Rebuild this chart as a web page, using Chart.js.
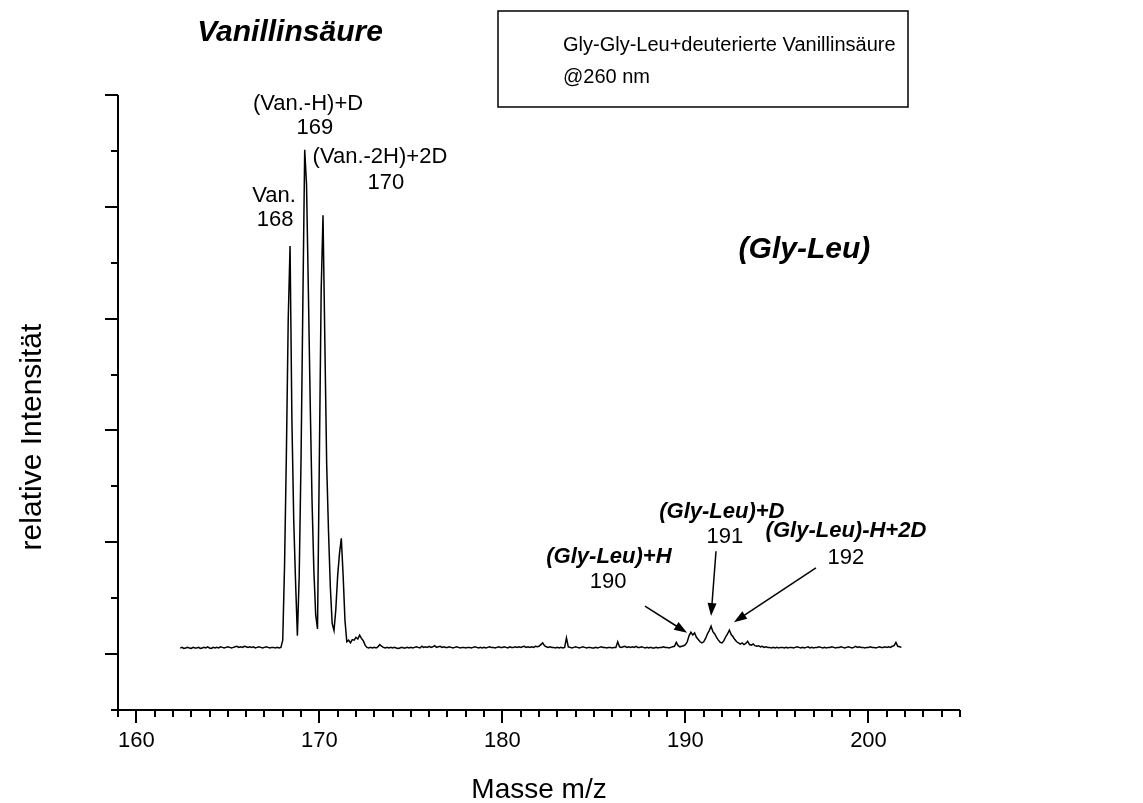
<!DOCTYPE html>
<html>
<head>
<meta charset="utf-8">
<script src="https://cdn.jsdelivr.net/npm/chart.js@4.4.1/dist/chart.umd.min.js"></script>
<style>
  body { margin: 0; background: #fff; }
  #wrap { width: 1143px; height: 803px; position: relative; }
</style>
</head>
<body>
<div id="wrap"><canvas id="spectrum" width="1143" height="803"></canvas></div>
<script>

var FONT = '"Liberation Sans", Arial, Helvetica, sans-serif';

// mass axis of the recorded trace: first sample and sampling step (m/z)
var MZ_START = 162.4;
var MZ_STEP = 0.1;

// relative intensity, one row per m/z unit (first row starts at 162.4, last ends at 201.8)
var intensity = [
  0.11, 0.12, 0.10, 0.11, 0.12, 0.11,
  0.10, 0.12, 0.11, 0.11, 0.12, 0.10, 0.11, 0.12, 0.11, 0.13,   // 163
  0.11, 0.10, 0.12, 0.11, 0.12, 0.11, 0.13, 0.12, 0.11, 0.12,   // 164
  0.13, 0.12, 0.11, 0.12, 0.13, 0.14, 0.12, 0.13, 0.12, 0.14,   // 165
  0.13, 0.12, 0.13, 0.12, 0.13, 0.11, 0.12, 0.13, 0.12, 0.11,   // 166
  0.12, 0.13, 0.12, 0.11, 0.12, 0.12, 0.11, 0.12, 0.11, 0.12,   // 167
  0.25, 1.60, 3.60, 6.00, 7.30, 4.20, 2.40, 1.30, 0.33, 1.40,   // 168
  3.50, 6.30, 9.02, 8.40, 6.50, 4.50, 2.75, 1.50, 0.70, 0.45,   // 169
  3.50, 6.50, 7.85, 5.60, 3.40, 2.20, 1.20, 0.55, 0.42, 0.80,   // 170
  1.40, 1.80, 2.07, 1.40, 0.60, 0.22, 0.25, 0.20, 0.26, 0.25,   // 171
  0.30, 0.27, 0.34, 0.28, 0.24, 0.16, 0.12, 0.11, 0.12, 0.11,   // 172
  0.12, 0.11, 0.13, 0.17, 0.14, 0.12, 0.11, 0.12, 0.11, 0.12,   // 173
  0.11, 0.12, 0.11, 0.10, 0.11, 0.12, 0.11, 0.11, 0.12, 0.11,   // 174
  0.12, 0.11, 0.12, 0.13, 0.12, 0.11, 0.14, 0.12, 0.13, 0.12,   // 175
  0.14, 0.12, 0.13, 0.15, 0.12, 0.13, 0.14, 0.12, 0.13, 0.12,   // 176
  0.12, 0.13, 0.12, 0.11, 0.12, 0.13, 0.12, 0.11, 0.12, 0.12,   // 177
  0.11, 0.12, 0.12, 0.11, 0.12, 0.13, 0.12, 0.11, 0.12, 0.11,   // 178
  0.12, 0.11, 0.12, 0.13, 0.12, 0.12, 0.11, 0.12, 0.13, 0.12,   // 179
  0.12, 0.13, 0.12, 0.11, 0.13, 0.12, 0.12, 0.13, 0.12, 0.13,   // 180
  0.12, 0.13, 0.14, 0.12, 0.13, 0.12, 0.13, 0.12, 0.14, 0.13,   // 181
  0.14, 0.17, 0.20, 0.15, 0.13, 0.12, 0.13, 0.12, 0.12, 0.11,   // 182
  0.12, 0.11, 0.12, 0.11, 0.12, 0.29, 0.13, 0.12, 0.11, 0.12,   // 183
  0.13, 0.12, 0.11, 0.12, 0.13, 0.12, 0.11, 0.12, 0.12, 0.11,   // 184
  0.11, 0.12, 0.11, 0.12, 0.13, 0.12, 0.12, 0.11, 0.12, 0.12,   // 185
  0.11, 0.12, 0.12, 0.22, 0.13, 0.12, 0.13, 0.14, 0.12, 0.13,   // 186
  0.12, 0.13, 0.12, 0.14, 0.12, 0.12, 0.13, 0.12, 0.11, 0.12,   // 187
  0.11, 0.12, 0.11, 0.11, 0.12, 0.11, 0.12, 0.12, 0.13, 0.12,   // 188
  0.12, 0.11, 0.12, 0.13, 0.14, 0.21, 0.15, 0.13, 0.14, 0.15,   // 189
  0.17, 0.22, 0.33, 0.39, 0.34, 0.38, 0.30, 0.26, 0.22, 0.20,   // 190
  0.22, 0.28, 0.36, 0.42, 0.50, 0.40, 0.36, 0.30, 0.25, 0.21,   // 191
  0.20, 0.24, 0.31, 0.36, 0.43, 0.35, 0.31, 0.26, 0.22, 0.20,   // 192
  0.18, 0.20, 0.17, 0.19, 0.23, 0.17, 0.16, 0.18, 0.15, 0.14,   // 193
  0.15, 0.13, 0.14, 0.12, 0.13, 0.12, 0.12, 0.11, 0.12, 0.11,   // 194
  0.12, 0.11, 0.12, 0.12, 0.11, 0.12, 0.11, 0.12, 0.12, 0.11,   // 195
  0.12, 0.13, 0.12, 0.11, 0.12, 0.11, 0.12, 0.13, 0.11, 0.12,   // 196
  0.11, 0.12, 0.12, 0.13, 0.12, 0.11, 0.12, 0.11, 0.12, 0.12,   // 197
  0.13, 0.12, 0.11, 0.12, 0.12, 0.13, 0.12, 0.11, 0.12, 0.13,   // 198
  0.12, 0.11, 0.12, 0.14, 0.12, 0.13, 0.12, 0.12, 0.11, 0.12,   // 199
  0.12, 0.13, 0.12, 0.12, 0.11, 0.12, 0.13, 0.12, 0.12, 0.13,   // 200
  0.12, 0.13, 0.12, 0.14, 0.15, 0.21, 0.14, 0.13, 0.12          // 201
];

var xTickLabels = [160, 170, 180, 190, 200];
var X_MIN = 159, X_MAX = 205;
var Y_MIN = -1, Y_MAX = 10;

var vanLabels = ['Van.', '168', '(Van.-H)+D', '169', '(Van.-2H)+2D', '170'];
var glyLeuLabels = ['(Gly-Leu)+H', '190', '(Gly-Leu)+D', '191', '(Gly-Leu)-H+2D', '192'];
var headings = ['Vanillinsäure', '(Gly-Leu)'];
var boxLines = ['Gly-Gly-Leu+deuterierte Vanillinsäure', '@260 nm'];
var axisTitles = ['Masse m/z', 'relative Intensität'];

var spectrum = intensity.map(function (v, i) {
  return {x: +(MZ_START + i * MZ_STEP).toFixed(1), y: v};
});

function text(ctx, s, x, y, font, align) {
  ctx.font = font;
  ctx.textAlign = align || 'center';
  ctx.textBaseline = 'middle';
  ctx.fillText(s, x, y);
}

function arrow(ctx, x0, y0, x1, y1) {
  var a = Math.atan2(y1 - y0, x1 - x0);
  var len = 13, half = 4.5;
  ctx.beginPath();
  ctx.moveTo(x0, y0);
  ctx.lineTo(x1 - Math.cos(a) * len * 0.8, y1 - Math.sin(a) * len * 0.8);
  ctx.stroke();
  ctx.beginPath();
  ctx.moveTo(x1, y1);
  ctx.lineTo(x1 - Math.cos(a) * len - Math.sin(a) * half, y1 - Math.sin(a) * len + Math.cos(a) * half);
  ctx.lineTo(x1 - Math.cos(a) * len + Math.sin(a) * half, y1 - Math.sin(a) * len - Math.cos(a) * half);
  ctx.closePath();
  ctx.fill();
}

// axes with long/short ticks, all text, arrows and the legend box
var decor = {
  id: 'decor',
  afterDraw: function (chart) {
    var ctx = chart.ctx;
    var xs = chart.scales.x, ys = chart.scales.y, area = chart.chartArea;
    function X(v) { return xs.getPixelForValue(v); }
    function Y(v) { return ys.getPixelForValue(v); }

    ctx.save();
    ctx.fillStyle = '#000';
    ctx.strokeStyle = '#000';
    ctx.lineWidth = 2;
    ctx.lineCap = 'butt';

    ctx.beginPath();
    ctx.moveTo(area.left, area.top);
    ctx.lineTo(area.left, area.bottom);
    ctx.lineTo(area.right, area.bottom);
    ctx.stroke();

    var m, p;
    for (m = X_MIN; m <= X_MAX; m++) {
      p = Math.round(X(m));
      ctx.beginPath();
      ctx.moveTo(p, area.bottom);
      ctx.lineTo(p, area.bottom + (m % 10 === 0 ? 13 : 7));
      ctx.stroke();
    }
    for (m = Y_MIN; m <= Y_MAX; m++) {
      p = Math.round(Y(m));
      ctx.beginPath();
      ctx.moveTo(area.left, p);
      ctx.lineTo(area.left - (m % 2 === 0 ? 13 : 7), p);
      ctx.stroke();
    }

    xTickLabels.forEach(function (t) {
      text(ctx, String(t), X(t), area.bottom + 31, '22px ' + FONT);
    });

    // axis titles
    text(ctx, axisTitles[0], (area.left + area.right) / 2, 790, '28px ' + FONT);
    ctx.save();
    ctx.translate(33, 437);
    ctx.rotate(-Math.PI / 2);
    text(ctx, axisTitles[1], 0, 0, '30px ' + FONT);
    ctx.restore();

    // headings
    var bi = 'italic bold 30px ' + FONT;
    text(ctx, headings[0], 290, 33, bi);
    text(ctx, headings[1], X(196.5), Y(7.23), bi);

    // legend box
    ctx.lineWidth = 1.5;
    ctx.strokeRect(498, 11, 410, 96);
    text(ctx, boxLines[0], 563, 45, '20px ' + FONT, 'left');
    text(ctx, boxLines[1], 563, 77, '20px ' + FONT, 'left');

    // vanillic acid peak labels
    var f = '22px ' + FONT;
    text(ctx, vanLabels[0], X(167.52), Y(8.19), f);
    text(ctx, vanLabels[1], X(167.58), Y(7.76), f);
    text(ctx, vanLabels[2], X(169.38), Y(9.84), f);
    text(ctx, vanLabels[3], X(169.76), Y(9.41), f);
    text(ctx, vanLabels[4], X(173.31), Y(8.89), f);
    text(ctx, vanLabels[5], X(173.64), Y(8.43), f);

    // Gly-Leu peak labels
    var fb = 'italic bold 22px ' + FONT;
    text(ctx, glyLeuLabels[0], X(185.82), Y(1.74), fb);
    text(ctx, glyLeuLabels[1], X(185.77), Y(1.29), f);
    text(ctx, glyLeuLabels[2], X(191.99), Y(2.54), fb);
    text(ctx, glyLeuLabels[3], X(192.16), Y(2.09), f);
    text(ctx, glyLeuLabels[4], X(198.77), Y(2.20), fb);
    text(ctx, glyLeuLabels[5], X(198.77), Y(1.72), f);

    ctx.lineWidth = 1.5;
    arrow(ctx, X(187.79), Y(0.86), X(190.09), Y(0.38));
    arrow(ctx, X(191.67), Y(1.84), X(191.40), Y(0.68));
    arrow(ctx, X(197.13), Y(1.54), X(192.65), Y(0.57));

    ctx.restore();
  }
};

new Chart(document.getElementById('spectrum'), {
  type: 'line',
  data: {
    datasets: [{
      data: spectrum,
      borderColor: '#000',
      borderWidth: 1.5,
      pointRadius: 0,
      tension: 0,
      fill: false
    }]
  },
  options: {
    responsive: false,
    devicePixelRatio: 1,
    animation: false,
    events: [],
    layout: {padding: {top: 95, right: 183, left: 0, bottom: 0}},
    plugins: {legend: {display: false}, tooltip: {enabled: false}},
    scales: {
      x: {
        type: 'linear',
        min: X_MIN,
        max: X_MAX,
        grid: {display: false},
        border: {display: false},
        ticks: {display: false},
        afterFit: function (s) { s.height = 93; }
      },
      y: {
        min: Y_MIN,
        max: Y_MAX,
        grid: {display: false},
        border: {display: false},
        ticks: {display: false},
        afterFit: function (s) { s.width = 118; }
      }
    }
  },
  plugins: [decor]
});
</script>
</body>
</html>
